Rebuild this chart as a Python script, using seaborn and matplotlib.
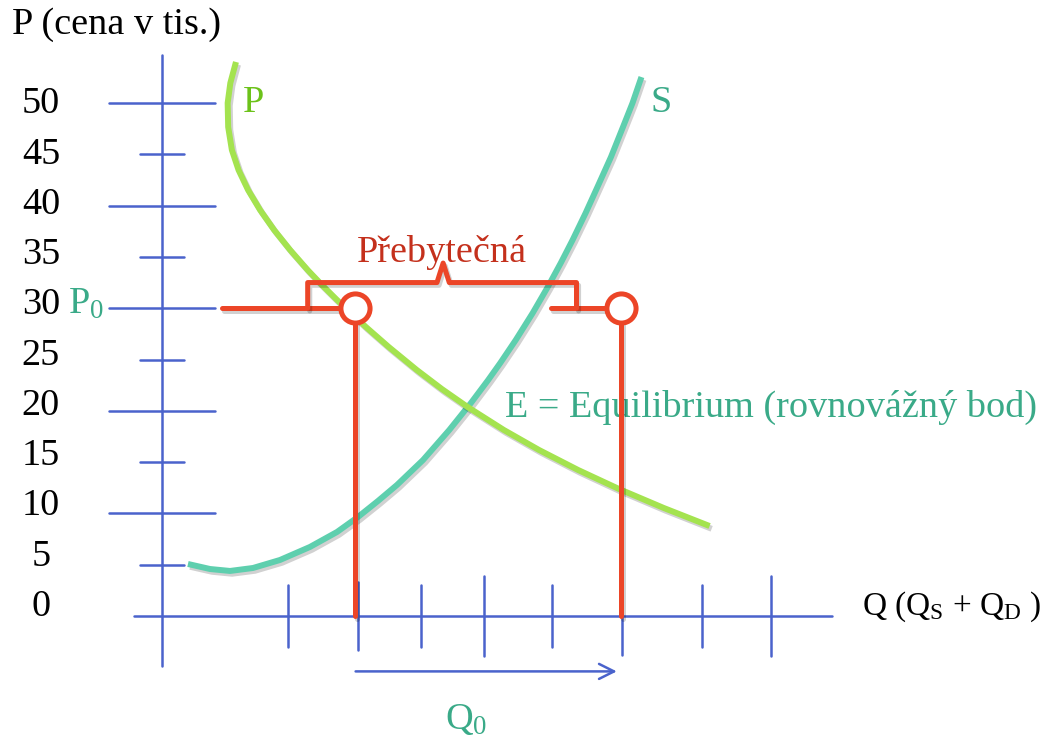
import numpy as np
import pandas as pd
import seaborn as sns
import matplotlib.pyplot as plt
import matplotlib.patheffects as pe

# curves (Q, P)
demand_q = [7.21, 6.66, 6.40, 6.45, 6.81, 7.46, 8.39, 9.56, 10.93, 12.49, 14.20, 15.59, 17.06, 19.87,
            22.10, 24.83, 27.28, 29.79, 33.32, 36.75, 40.56, 44.54, 48.90, 53.37]
demand_p = [54.00, 51.95, 50.00, 47.66, 45.42, 43.47, 41.52, 39.57, 37.62, 35.67, 33.72, 32.26, 30.80, 28.17,
            26.22, 23.98, 22.12, 20.37, 18.13, 16.18, 14.23, 12.38, 10.53, 8.77]
supply_q = [2.53, 4.68, 6.63, 8.87, 11.50, 14.42, 17.06, 19.10, 21.05, 22.90, 25.44, 28.00, 30.11,
            31.79, 32.97, 34.48, 36.13, 37.60, 38.87, 40.02, 41.29, 42.44, 43.76, 44.93, 45.86, 46.73]
supply_p = [5.07, 4.58, 4.39, 4.68, 5.46, 6.73, 8.19, 9.65, 11.21, 12.77, 15.20, 18.13, 20.76,
            23.00, 24.66, 26.90, 29.53, 32.07, 34.41, 36.65, 39.28, 41.81, 44.74, 47.66, 50.00, 52.53]

price_ticks = [0, 5, 10, 15, 20, 25, 30, 35, 40, 45, 50]
qty_ticks = [12.3, 19.1, 25.2, 31.4, 38.0, 44.8, 52.6, 59.4]
qty_tick_len = [3.0, 3.3, 3.0, 3.9, 3.0, 3.8, 3.0, 3.9]

p0 = 30
q_demand = 18.8   # Qd at P0
q_supply = 44.7   # Qs at P0

blue = '#4a63cc'
red = '#ec4527'
dark_red = '#c4301c'
green = '#a4e34f'
green_txt = '#6cc21a'
teal = '#5ecfae'
teal_txt = '#3aaa88'
fs = 27.5

sns.set_theme(style='white')
plt.rcParams['font.family'] = ['Liberation Serif', 'DejaVu Serif']
plt.rcParams['mathtext.fontset'] = 'custom'
plt.rcParams['mathtext.rm'] = 'Liberation Serif'
plt.rcParams['mathtext.it'] = 'Liberation Serif'

fig = plt.figure(figsize=(10.49, 7.38), dpi=100)
ax = fig.add_axes([0, 0, 1, 1])
px = 10.26
ax.set_xlim(-162 / px, (1049 - 162) / px)
ax.set_ylim(-(738 - 616) / px, 616 / px)
ax.axis('off')

shadow = [pe.SimpleLineShadow(offset=(1.5, -2), alpha=0.18, shadow_color='black'), pe.Normal()]

# axes drawn by hand
ax.plot([0, 0], [-4.9, 54.7], color=blue, lw=1.8, zorder=1)
ax.plot([-2.7, 65.3], [0, 0], color=blue, lw=1.8, zorder=1)
for v in price_ticks[1:]:
    half = 5.2 if v % 10 == 0 else 2.1
    ax.plot([-half, half], [v, v], color=blue, lw=1.8, zorder=1)
for v in price_ticks:
    ax.text(-11.8, v * 0.98 + 0.9, str(v), ha='center', va='center', fontsize=fs, color='black')
for q, h in zip(qty_ticks, qty_tick_len):
    ax.plot([q, q], [-h, h], color=blue, lw=1.8, zorder=1)

# supply and demand
curves = pd.DataFrame({'Q': supply_q, 'P': supply_p})
sns.lineplot(data=curves, x='Q', y='P', sort=False, estimator=None, ax=ax,
             color=teal, lw=4.3, zorder=2, path_effects=shadow,
             solid_joinstyle='round', solid_capstyle='butt')
curves = pd.DataFrame({'Q': demand_q, 'P': demand_p})
sns.lineplot(data=curves, x='Q', y='P', sort=False, estimator=None, ax=ax,
             color=green, lw=4.3, zorder=2, path_effects=shadow,
             solid_joinstyle='round', solid_capstyle='butt')

ax.text(7.9, 50.0, 'P', color=green_txt, fontsize=fs, va='center')
ax.text(47.6, 50.0, 'S', color=teal_txt, fontsize=fs, va='center')
ax.text(33.4, 20.3, 'E = Equilibrium (rovnovážný bod)', color=teal_txt, fontsize=fs,
        va='center', zorder=2.5)

# price floor lines
ax.plot([5.8, q_demand], [p0, p0], color=red, lw=3.6, zorder=3, path_effects=shadow)
ax.plot([37.9, q_supply], [p0, p0], color=red, lw=3.6, zorder=3, path_effects=shadow)
ax.plot([q_demand, q_demand], [0, p0], color=red, lw=3.6, zorder=3, path_effects=shadow)
ax.plot([q_supply, q_supply], [0, p0], color=red, lw=3.6, zorder=3, path_effects=shadow)
sns.scatterplot(x=[q_demand, q_supply], y=[p0, p0], ax=ax, s=440, marker='o',
                facecolor='white', edgecolor=red, linewidth=3.6, zorder=4)

# surplus bracket
ax.plot([14.2, 14.2, 26.8, 27.4, 28.0, 40.4, 40.4],
        [p0, 32.5, 32.5, 34.4, 32.5, 32.5, p0],
        color=red, lw=3.6, zorder=3, solid_joinstyle='round', path_effects=shadow)
ax.text(27.3, 35.4, 'Přebytečná', color=dark_red, fontsize=fs, ha='center', va='center')

# labels
ax.text(-14.6, 57.6, 'P (cena v tis.)', fontsize=fs, va='center', color='black')
ax.text(-9.2, 30.4, r'$\mathrm{P}_0$', fontsize=fs, va='center', color=teal_txt)
ax.text(68.2, 0.9, r'Q (Q$_\mathrm{S}$ + Q$_\mathrm{D}$ )', fontsize=24, va='center', color='black')
ax.annotate('', xy=(44.6, -5.4), xytext=(18.6, -5.4),
            arrowprops=dict(arrowstyle='->,head_length=0.9,head_width=0.45', color=blue, lw=1.8))
ax.text(29.6, -10.1, r'$\mathrm{Q}_0$', fontsize=fs, ha='center', va='center', color=teal_txt)

plt.savefig('out.png', dpi=100)
